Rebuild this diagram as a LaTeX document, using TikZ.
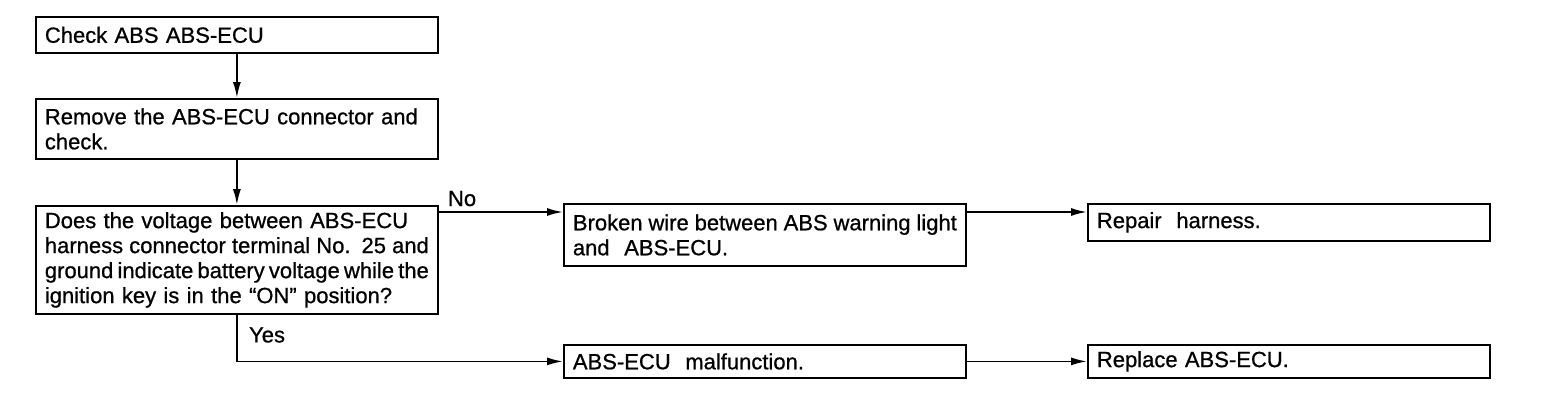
\documentclass[tikz,border=0pt]{standalone}
\usepackage{fontspec}
\setmainfont{Liberation Sans}[FakeBold=0.8]
\usetikzlibrary{arrows.meta,calc}
\begin{document}
\begin{tikzpicture}[x=1pt,y=-1pt,
  flowbox/.style={draw, line width=1.8pt, anchor=north west, text width=384pt, inner xsep=9pt, inner ysep=0pt, align=left, font=\fontsize{22}{25}\selectfont},
  arr/.style={line width=1.8pt, -{Latex[length=16pt,width=8pt]}},
  lab/.style={font=\fontsize{22}{25}\selectfont, anchor=base west, inner sep=0pt}]
\useasboundingbox (0,0) rectangle (1568,412);
\node[flowbox, minimum height=36pt] (b1) at (35,16) {Check ABS ABS-ECU};
\node[flowbox, minimum height=60pt] (b2) at (35,98) {\makebox[380pt][s]{Remove the ABS-ECU connector and}\\check.};
\node[flowbox, minimum height=108pt] (b3) at (35,205) {\makebox[384pt][s]{Does the voltage between ABS-ECU}\\
\makebox[384pt][s]{\spaceskip=3pt plus 10pt harness connector terminal No. 25 and}\\
\makebox[384pt][s]{\spaceskip=1pt plus 10pt ground indicate battery voltage while the}\\
\makebox[370pt][s]{ignition key is in the “ON” position?}};
\node[flowbox, minimum height=62pt] (b4) at (563,203) {\makebox[384pt][s]{\spaceskip=2pt plus 10pt Broken wire between ABS warning light}\\and\ \ ABS-ECU.};
\node[flowbox, minimum height=37pt] (b5) at (1087,203) {Repair\ \ harness.};
\node[flowbox, minimum height=33pt] (b6) at (563,344) {ABS-ECU\ \ malfunction.};
\node[flowbox, minimum height=33pt] (b7) at (1087,344) {Replace ABS-ECU.};
\draw[arr] (b1.south) -- (b2.north);
\draw[arr] (b2.south) -- (b3.north);
\coordinate (nb) at ([yshift=-9pt]b4.north west);
\coordinate (nstart) at (b3.east |- nb);
\draw[arr] (nstart) -- (nb);
\draw[arr] (b4.east |- nb) -- (b5.west |- nb);
\coordinate (ycorner) at (b3.south |- b6.west);
\draw[arr] (b3.south) |- (b6.west);
\draw[arr] (b6.east) -- (b7.west);
\node[lab] (no) at ([xshift=9pt,yshift=6pt]nstart) {No};
\node[lab] (yes) at ([xshift=12pt,yshift=19pt]ycorner) {Yes};
\end{tikzpicture}
\end{document}
